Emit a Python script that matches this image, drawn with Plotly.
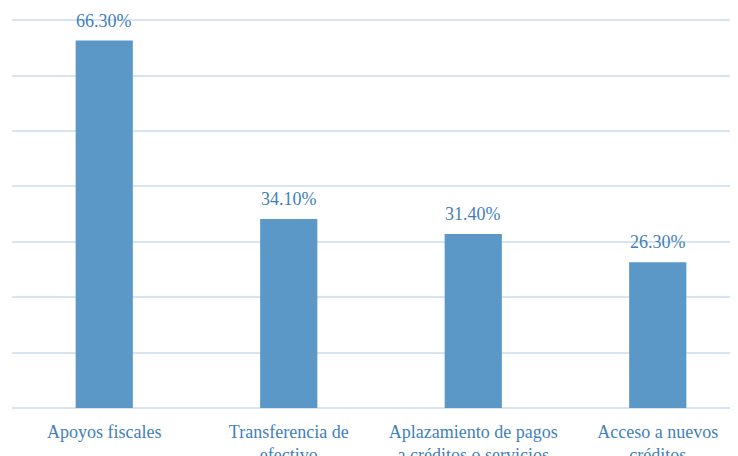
import plotly.graph_objects as go

categories = ["Apoyos fiscales", "Transferencia de<br>efectivo",
              "Aplazamiento de pagos<br>a créditos o servicios", "Acceso a nuevos<br>créditos"]
values = [66.3, 34.1, 31.4, 26.3]
value_labels = ["66.30%", "34.10%", "31.40%", "26.30%"]

bar_color = "#5B98C8"
text_color = "#3F7FBA"
grid_color = "#D7E4F1"
font_family = "Liberation Serif"

x = list(range(len(categories)))
fig = go.Figure(go.Bar(x=x, y=values, marker=dict(color=bar_color, line=dict(width=0)),
                       width=0.31, hoverinfo="skip"))

for xi, v, lab in zip(x, values, value_labels):
    fig.add_annotation(x=xi, y=v, text=lab, showarrow=False, yanchor="middle", yshift=20,
                       font=dict(family=font_family, size=18, color=text_color))

# page body has an 8px margin, so the figure is offset by (8, 8)
fig.update_layout(
    width=730, height=448,
    margin=dict(l=4, r=0, t=1, b=48, autoexpand=False),
    plot_bgcolor="white", paper_bgcolor="white",
    showlegend=False,
    font=dict(family=font_family, size=18, color=text_color),
)
fig.update_xaxes(range=[-0.5, 3.5 - 12 / 184.5], tickvals=x, ticktext=categories,
                 showgrid=False, showline=False, zeroline=False, ticks="", automargin=False,
                 ticklabelstandoff=11,
                 tickfont=dict(family=font_family, size=18, color=text_color))
fig.update_yaxes(range=[0, 72], tickvals=[10, 20, 30, 40, 50, 60, 70], showgrid=True,
                 gridcolor=grid_color, gridwidth=1.5,
                 zeroline=True, zerolinecolor=grid_color, zerolinewidth=1.5, automargin=False,
                 showticklabels=False, ticks="", showline=False)

fig.write_html("out.html")
